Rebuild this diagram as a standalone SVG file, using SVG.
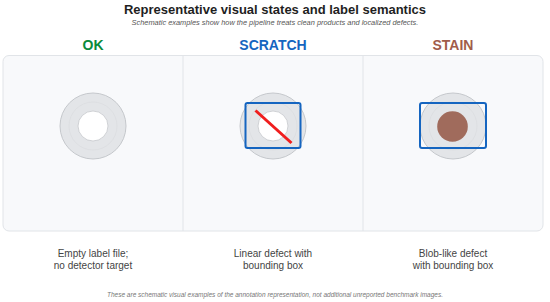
<svg xmlns="http://www.w3.org/2000/svg" width="550" height="302" viewBox="0 0 550 302">
<style>
.t{font-family:"Liberation Sans",Arial,sans-serif}
.title{font-size:13px;font-weight:bold;fill:#1f1f1f}
.sub{font-size:7.4px;font-style:italic;fill:#555}
.hd{font-size:14px;font-weight:bold}
.cap{font-size:10px;fill:#444}
.foot{font-size:6.5px;font-style:italic;fill:#777}
.ring{fill:#e3e5e8;stroke:#c5c8cc;stroke-width:1}
.mid{fill:none;stroke:#d8dadd;stroke-width:0.6}
.hole{fill:#fff;stroke:#c5c8cc;stroke-width:0.8}
.box{fill:none;stroke:#1565c0;stroke-width:2}
</style>
<rect width="550" height="302" fill="#fff"/>
<g id="header">
<text class="t title" x="275" y="14" text-anchor="middle">Representative visual states and label semantics</text>
<text class="t sub" x="275" y="25" text-anchor="middle">Schematic examples show how the pipeline treats clean products and localized defects.</text>
</g>
<g id="panel">
<rect x="3" y="55.5" width="540" height="175.5" rx="6" fill="#f8f9fb" stroke="#e1e4e8" stroke-width="1"/>
<line x1="183" y1="55.5" x2="183" y2="231" stroke="#e1e4e8" stroke-width="1"/>
<line x1="363" y1="55.5" x2="363" y2="231" stroke="#e1e4e8" stroke-width="1"/>
</g>
<g id="ok">
<text class="t hd" x="93" y="49.7" text-anchor="middle" fill="#0b8a3a">OK</text>
<circle class="ring" cx="93" cy="126" r="33"/>
<circle class="mid" cx="93" cy="126" r="24"/>
<circle class="hole" cx="93" cy="126" r="15"/>
<text class="t cap" x="93" y="257" text-anchor="middle">Empty label file;</text>
<text class="t cap" x="93" y="269" text-anchor="middle">no detector target</text>
</g>
<g id="scratch">
<text class="t hd" x="273" y="49.7" text-anchor="middle" fill="#1565c0">SCRATCH</text>
<circle class="ring" cx="273" cy="126" r="33"/>
<circle class="mid" cx="273" cy="126" r="24"/>
<circle class="hole" cx="273" cy="126" r="15"/>
<line x1="255.5" y1="110.5" x2="291.5" y2="143" stroke="#f01e1e" stroke-width="3"/>
<rect class="box" x="245.5" y="103" width="55" height="45" rx="2"/>
<text class="t cap" x="273" y="257" text-anchor="middle">Linear defect with</text>
<text class="t cap" x="273" y="269" text-anchor="middle">bounding box</text>
</g>
<g id="stain">
<text class="t hd" x="453" y="49.7" text-anchor="middle" fill="#a15c4a">STAIN</text>
<circle class="ring" cx="453" cy="126" r="33"/>
<circle class="mid" cx="453" cy="126" r="24"/>
<circle cx="452.5" cy="126.5" r="15.3" fill="#a06b5c"/>
<rect class="box" x="420" y="103" width="66" height="45" rx="2"/>
<text class="t cap" x="453" y="257" text-anchor="middle">Blob-like defect</text>
<text class="t cap" x="453" y="269" text-anchor="middle">with bounding box</text>
</g>
<g id="footer">
<text class="t foot" x="275" y="297" text-anchor="middle">These are schematic visual examples of the annotation representation, not additional unreported benchmark images.</text>
</g>
</svg>
